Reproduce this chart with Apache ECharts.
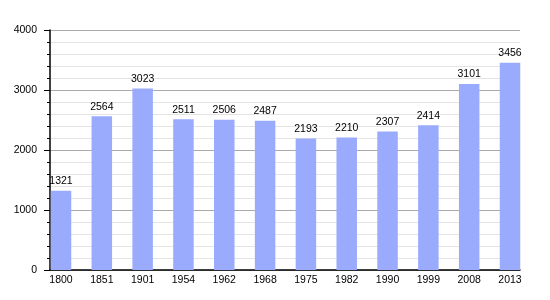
<!DOCTYPE html>
<html>
<head>
<meta charset="utf-8">
<script src="https://cdn.jsdelivr.net/npm/echarts@6/dist/echarts.min.js"></script>
<style>html,body{margin:0;padding:0;background:#fff}#c{width:550px;height:300px}</style>
</head>
<body>
<div id="c"></div>
<script>
var years = ['1800','1851','1901','1954','1962','1968','1975','1982','1990','1999','2008','2013'];
var population = [1321, 2564, 3023, 2511, 2506, 2487, 2193, 2210, 2307, 2414, 3101, 3456];
var yTicks = [0, 1000, 2000, 3000, 4000];

var font = 'Liberation Sans, Arial, sans-serif';
var chart = echarts.init(document.getElementById('c'));
chart.setOption({
  animation: false,
  backgroundColor: '#fff',
  grid: [
    {left: 50, right: 30, top: 30, bottom: 30},
    {left: 61, right: 40, top: 30, bottom: 30}
  ],
  xAxis: [
    {type: 'value', gridIndex: 0, min: 0, max: 1,
     axisLine: {show: true, onZero: false, lineStyle: {color: '#000', width: 1.5}},
     axisTick: {show: false}, axisLabel: {show: false}, splitLine: {show: false}},
    {type: 'category', gridIndex: 1, data: years, boundaryGap: false,
     axisLine: {show: false}, axisTick: {show: false}, splitLine: {show: false},
     axisLabel: {color: '#000', fontSize: 10.5, fontFamily: font, margin: 5, interval: 0}}
  ],
  yAxis: [
    {type: 'value', gridIndex: 0, min: yTicks[0], max: yTicks[yTicks.length - 1], interval: 1000,
     axisLine: {show: true, lineStyle: {color: '#000', width: 1.5}},
     axisTick: {show: true, length: 6, lineStyle: {color: '#000'}},
     minorTick: {show: true, splitNumber: 5, length: 3, lineStyle: {color: '#000'}},
     splitLine: {show: true, lineStyle: {color: '#aaaaaa'}},
     minorSplitLine: {show: true, lineStyle: {color: '#e4e4e4'}},
     axisLabel: {color: '#000', fontSize: 10.5, fontFamily: font, margin: 13,
                 formatter: function (v) { return String(v); }}},
    {type: 'value', gridIndex: 1, min: yTicks[0], max: yTicks[yTicks.length - 1], show: false}
  ],
  series: [{
    type: 'bar', xAxisIndex: 1, yAxisIndex: 1, data: population, barWidth: 20.5,
    itemStyle: {color: '#9aabfe'},
    label: {show: true, position: 'top', distance: 4, color: '#000', fontSize: 10.5, fontFamily: font}
  }]
});
</script>
</body>
</html>
